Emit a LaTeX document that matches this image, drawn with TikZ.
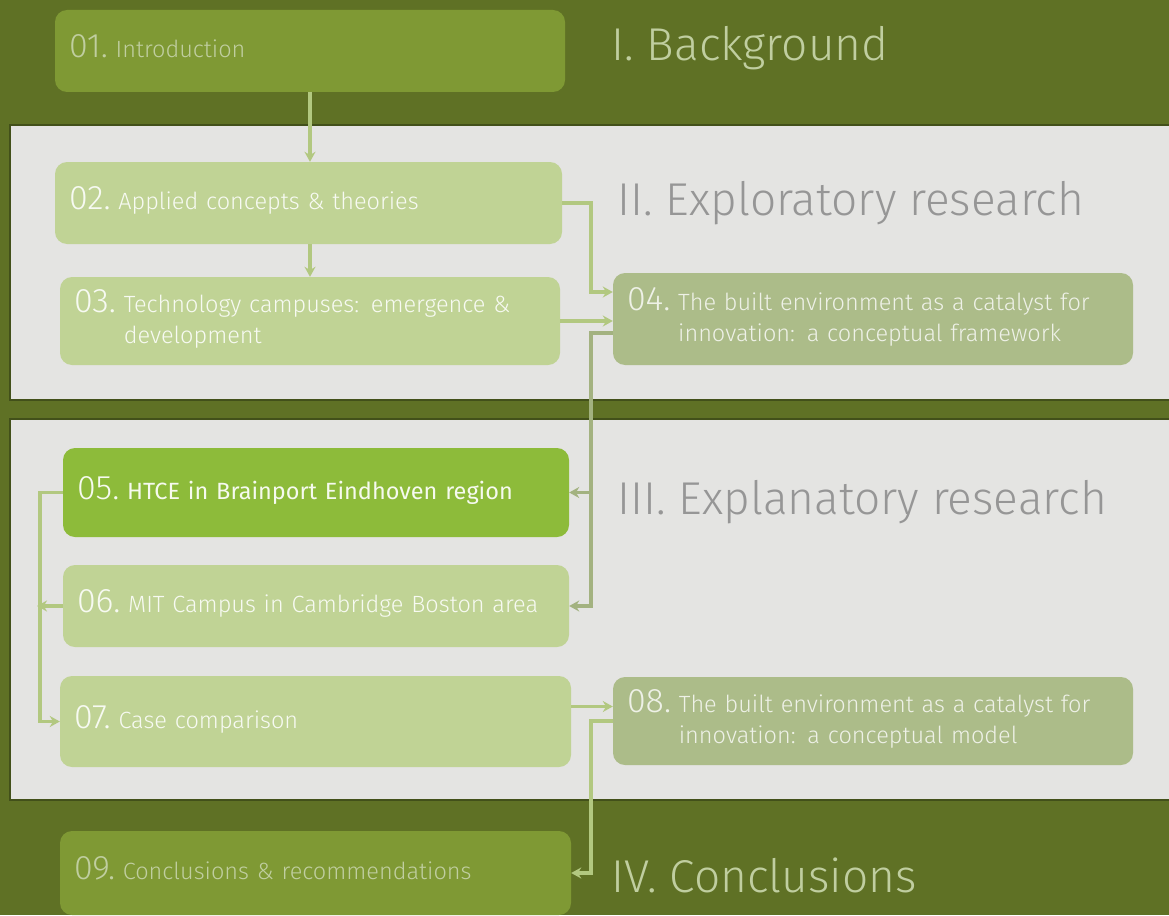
\documentclass[tikz,border=0pt]{standalone}
\usepackage{fontspec}
\setmainfont{Fira Sans Light}
\newfontfamily\bookfont{Fira Sans}
\usetikzlibrary{arrows.meta}

\definecolor{olivebg}{RGB}{95,113,37}
\definecolor{oliveedge}{RGB}{66,80,26}
\definecolor{bandgrey}{RGB}{228,228,226}
\definecolor{darkbox}{RGB}{127,153,52}
\definecolor{lightbox}{RGB}{192,211,149}
\definecolor{greybox}{RGB}{172,188,137}
\definecolor{brightbox}{RGB}{141,187,58}
\definecolor{linkgreen}{RGB}{178,200,128}
\definecolor{linkgrey}{RGB}{163,178,128}
\definecolor{titlegrey}{RGB}{150,150,150}
\definecolor{titlelight}{RGB}{192,206,160}

% number in front, text lines aligned after it
\newcommand{\numlabel}[2]{{\fontsize{34}{34}\selectfont #1.}\ %
  \begin{tabular}[t]{@{}l@{}}\fontsize{23.5}{31}\selectfont #2\end{tabular}}

\begin{document}
\begin{tikzpicture}[x=1pt, y=-1pt,
        every node/.style={inner ysep=0pt, align=left}
    ]
    \tikzstyle {chapter} = [rounded corners=12pt, inner xsep=14pt, font=\fontsize{23.5}{31}\selectfont]
    \tikzstyle {dark_box} = [chapter, fill=darkbox, text=titlelight]
    \tikzstyle {light_box} = [chapter, fill=lightbox, text=white!88!lightbox]
    \tikzstyle {grey_box} = [chapter, fill=greybox, text=white!80!greybox]
    \tikzstyle {bright_box} = [chapter, fill=brightbox, text=white!92!brightbox]
    \tikzstyle {sec_dark} = [anchor=west, text=titlelight, font=\fontsize{46}{46}\selectfont]
    \tikzstyle {sec_light} = [anchor=west, text=titlegrey, font=\fontsize{46}{46}\selectfont]
    \tikzstyle {link} = [draw=linkgreen, line width=3.5pt, -{Stealth[length=10pt,width=11pt]}]
    \tikzstyle {grey_link} = [link, draw=linkgrey]

    % background and the two research bands
    \useasboundingbox (0,0) rectangle (1169,915);
    \fill[olivebg] (0,0) rectangle (1169,915);
    \filldraw[fill=bandgrey, draw=oliveedge, line width=2pt] (10,125) rectangle (1175,400);
    \filldraw[fill=bandgrey, draw=oliveedge, line width=2pt] (10,419) rectangle (1175,800);

    % chapters
    \node [dark_box, text width=482pt, minimum height=82pt] (b01) at (310,51)
        {\numlabel{01}{Introduction}};
    \node [light_box, text width=479pt, minimum height=82pt] (b02) at (308.5,203)
        {\numlabel{02}{Applied concepts \& theories}};
    \node [light_box, text width=472pt, minimum height=88pt] (b03) at (310,321)
        {\numlabel{03}{Technology campuses: emergence \&\\development}};
    \node [grey_box, text width=492pt, minimum height=92pt] (b04) at (873,319)
        {\numlabel{04}{The built environment as a catalyst for\\innovation: a conceptual framework}};
    \node [bright_box, text width=478pt, minimum height=89pt] (b05) at (316,492.5)
        {\numlabel{05}{\bookfont\fontsize{23.5}{31}\selectfont HTCE in Brainport Eindhoven region}};
    \node [light_box, text width=478pt, minimum height=82pt] (b06) at (316,606)
        {\numlabel{06}{MIT Campus in Cambridge Boston area}};
    \node [light_box, text width=483pt, minimum height=91pt] (b07) at (315.5,721.5)
        {\numlabel{07}{Case comparison}};
    \node [grey_box, text width=492pt, minimum height=88pt] (b08) at (873,721)
        {\numlabel{08}{The built environment as a catalyst for\\innovation: a conceptual model}};
    \node [dark_box, text width=483pt, minimum height=84pt] (b09) at (315.5,873)
        {\numlabel{09}{Conclusions \& recommendations}};

    % parts
    \node [sec_dark] (secI) at (608,48) {I. Background};
    \node [sec_light] (secII) at (614,203) {II. Exploratory research};
    \node [sec_light] (secIII) at (614,502) {III. Explanatory research};
    \node [sec_dark] (secIV) at (608,875) {IV. Conclusions};

    % vertical busses
    \coordinate (busR) at (591,0);
    \coordinate (busL) at (40,0);

    \draw[link] (b01.south) -- (b01.south |- b02.north);
    \draw[link] (b01.south |- b02.south) -- (b01.south |- b03.north);
    \draw[link] (b02.east) -| ([yshift=27pt]b04.west -| busR) -- ([yshift=27pt]b04.west);
    \draw[link] (b03.east) -- (b03.east -| b04.west);
    \draw[grey_link] ([yshift=-14pt]b04.west) -| (busR |- b06.east) -- (b06.east);
    \draw[grey_link] (busR |- b05.east) -- (b05.east);
    \draw[link] (b05.west) -| (busL |- b07.west) -- (b07.west);
    \draw[link] (b06.west) -- ([xshift=-3pt]busL |- b06.west);
    \draw[link] ([yshift=15pt]b07.east) -- ([yshift=15pt]b07.east -| b08.west);
    \draw[link] (b08.west) -| (busR |- b09.east) -- (b09.east);

\end{tikzpicture}
\end{document}
